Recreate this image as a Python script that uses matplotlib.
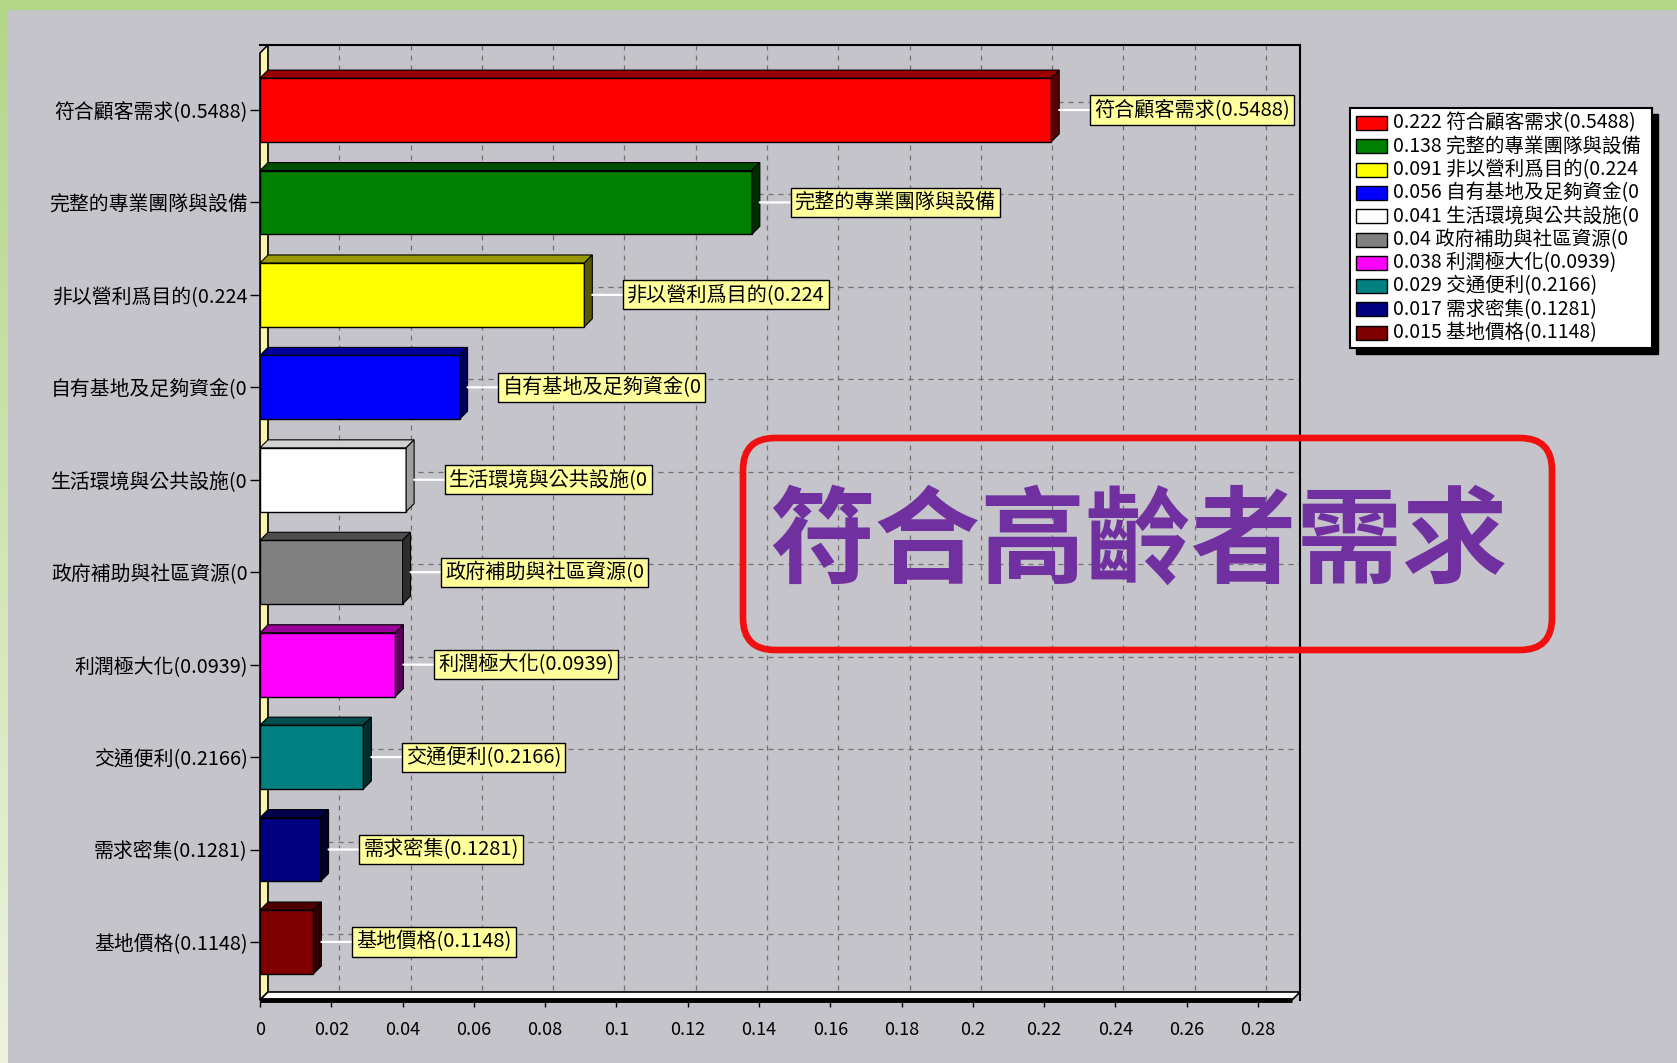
import numpy as np
import matplotlib
matplotlib.use('Agg')
import matplotlib.pyplot as plt
from matplotlib.patches import Polygon, Rectangle, FancyBboxPatch

plt.rcParams['font.family'] = ['Noto Sans CJK TC', 'DejaVu Sans']

# data
labels = ['符合顧客需求(0.5488)', '完整的專業團隊與設備', '非以營利爲目的(0.224',
          '自有基地及足夠資金(0', '生活環境與公共設施(0', '政府補助與社區資源(0',
          '利潤極大化(0.0939)', '交通便利(0.2166)', '需求密集(0.1281)', '基地價格(0.1148)']
values = [0.222, 0.138, 0.091, 0.056, 0.041, 0.04, 0.038, 0.029, 0.017, 0.015]
colors = ['#ff0000', '#008000', '#ffff00', '#0000ff', '#ffffff',
          '#808080', '#ff00ff', '#008080', '#000080', '#800000']
xticks = [0, 0.02, 0.04, 0.06, 0.08, 0.1, 0.12, 0.14, 0.16, 0.18, 0.2, 0.22, 0.24, 0.26, 0.28]
title_text = '符合高齡者需求'

W, H = 1677, 1063
BG = '#c4c4ca'

# 3d depth in data units, axis extents
DX, DY = 0.00224, 0.0866
X_MAX = 0.2918
Y_TOP, Y_BOT = -0.703, 9.628
BAR_H = 0.69


def shade(c, f):
    r, g, b = matplotlib.colors.to_rgb(c)
    return (r * f, g * f, b * f)


fig = plt.figure(figsize=(W / 100, H / 100), dpi=100, facecolor=BG)

# background with the green border strips
bg = fig.add_axes([0, 0, 1, 1], zorder=-5)
bg.axis('off')
bg.add_patch(Rectangle((0, 0), W, H, color=BG))
grad = np.linspace(0, 1, 256).reshape(-1, 1)
cmap = matplotlib.colors.LinearSegmentedColormap.from_list('g', ['#b2d688', '#eef3df'])
bg.imshow(grad, cmap=cmap, extent=(0, 8, H, 0), aspect='auto', zorder=2)
bg.add_patch(Rectangle((0, 0), W, 9, color='#b2d688', zorder=3))
bg.set_xlim(0, W)
bg.set_ylim(H, 0)

ax = fig.add_axes([260 / W, 1 - 1000 / H, (1300 - 260) / W, (1000 - 45) / H])
ax.set_facecolor('none')
ax.set_xlim(0, X_MAX)
ax.set_ylim(Y_BOT, Y_TOP)

ypos = np.arange(len(values))

# back plane grid
ax.vlines(np.array(xticks[1:]) + DX, Y_TOP, Y_BOT - DY, colors='#707070',
          linestyles=(0, (4, 4)), lw=0.9, zorder=1)
ax.hlines(ypos - DY, DX, X_MAX, colors='#707070', linestyles=(0, (4, 4)), lw=0.9, zorder=1)

# left wall and floor
ax.add_patch(Polygon([(0, Y_BOT), (0, Y_TOP + DY), (DX, Y_TOP), (DX, Y_BOT - DY)],
                     closed=True, fc='#fbf5b0', ec='black', lw=1.2, zorder=2, clip_on=False))
ax.add_patch(Polygon([(0, Y_BOT), (DX, Y_BOT - DY), (X_MAX, Y_BOT - DY), (X_MAX - DX, Y_BOT)],
                     closed=True, fc='white', ec='black', lw=1.2, zorder=2, clip_on=False))
ax.plot([0, X_MAX - DX], [Y_BOT, Y_BOT], color='black', lw=3.5, zorder=2, clip_on=False,
        solid_capstyle='butt')

# bars: front face plus top and side faces
ax.barh(ypos, values, height=BAR_H, color=colors, edgecolor='black', lw=1, zorder=3)
for y, v, c in zip(ypos, values, colors):
    top = y - BAR_H / 2
    bot = y + BAR_H / 2
    f_top, f_side = (0.82, 0.62) if c == '#ffffff' else (0.6, 0.35)
    ax.add_patch(Polygon([(0, top), (DX, top - DY), (v + DX, top - DY), (v, top)],
                         closed=True, fc=shade(c, f_top), ec='black', lw=0.8, zorder=3))
    ax.add_patch(Polygon([(v, top), (v + DX, top - DY), (v + DX, bot - DY), (v, bot)],
                         closed=True, fc=shade(c, f_side), ec='black', lw=0.8, zorder=3))

# value callouts
for y, v, lab in zip(ypos, values, labels):
    ax.annotate(lab, xy=(v + DX, y), xytext=(25, 0), textcoords='offset points',
                ha='left', va='center', fontsize=14.5, zorder=5,
                bbox=dict(boxstyle='square,pad=0.2', fc='#ffff9c', ec='black', lw=1),
                arrowprops=dict(arrowstyle='-', color='white', lw=1.6, shrinkA=0, shrinkB=0))

ax.set_yticks(ypos)
ax.set_yticklabels(labels, fontsize=14.3)
ax.set_xticks(xticks)
ax.set_xticklabels([f'{t:g}' for t in xticks], fontsize=13)
ax.tick_params(axis='y', length=7, width=1, pad=2)
ax.tick_params(axis='x', length=5, width=1, pad=10)
for s in ['left', 'bottom']:
    ax.spines[s].set_visible(False)
for s in ['top', 'right']:
    ax.spines[s].set_linewidth(1.5)

# legend box with shadow
L0, T0, LW, LH = 1350, 108, 302, 240
bg.add_patch(Rectangle((L0 + 6, T0 + 6), LW, LH, color='black', zorder=4))
lax = fig.add_axes([L0 / W, 1 - (T0 + LH) / H, LW / W, LH / H])
lax.set_xlim(0, LW)
lax.set_ylim(LH, 0)
lax.set_xticks([])
lax.set_yticks([])
lax.set_facecolor('white')
for s in lax.spines.values():
    s.set_linewidth(1.5)
for i, (v, lab, c) in enumerate(zip(values, labels, colors)):
    yc = 15 + i * 23.3
    lax.add_patch(Rectangle((6, yc - 7), 31, 14, fc=c, ec='black', lw=1))
    lax.text(43, yc, f'{v:g} {lab}', fontsize=14, va='center', ha='left', clip_on=True)

# overlay title in a red rounded frame
ov = fig.add_axes([0, 0, 1, 1], zorder=10)
ov.set_xlim(0, W)
ov.set_ylim(H, 0)
ov.axis('off')
ov.patch.set_alpha(0)
ov.add_patch(FancyBboxPatch((743, 438), 809, 212, boxstyle='round,pad=0,rounding_size=32',
                            fc='none', ec='#f01010', lw=4.8))
ov.text(1138, 543, title_text, fontsize=76, fontweight='bold', color='#7030a0',
        ha='center', va='center')

fig.savefig('out.png', dpi=100, facecolor=BG)
